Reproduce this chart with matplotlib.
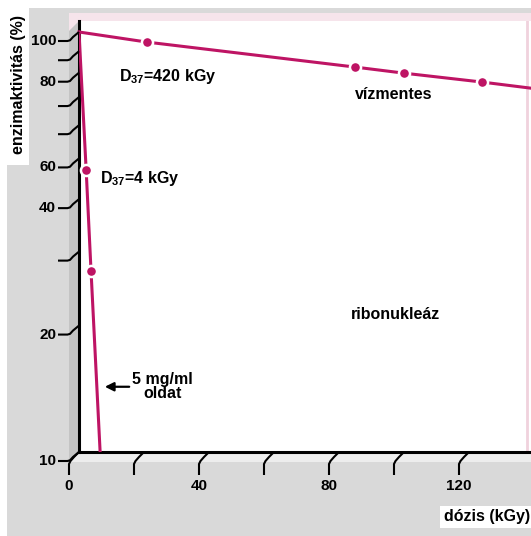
import numpy as np
import matplotlib
matplotlib.use('Agg')
import matplotlib.pyplot as plt
from matplotlib.patches import Polygon
from matplotlib.lines import Line2D
from matplotlib.ticker import NullLocator

plt.rcParams['font.family'] = ['Liberation Sans', 'DejaVu Sans']
plt.rcParams['font.weight'] = 'bold'
plt.rcParams['font.size'] = 11.5
plt.rcParams['mathtext.fontset'] = 'custom'
plt.rcParams['mathtext.rm'] = 'Liberation Sans:bold'
plt.rcParams['mathtext.bf'] = 'Liberation Sans:bold'

# adatok
dozis_vizmentes = [0, 21, 85, 100, 124, 139]
aktivitas_vizmentes = [100, 94.6, 82.5, 79.8, 76.0, 73.5]
dozis_oldat = [0, 2.2, 3.7, 6.5]
aktivitas_oldat = [100, 47, 27, 10]

x_ticks = [0, 20, 40, 60, 80, 100, 120]
x_labels = ['0', '', '40', '', '80', '', '120']
y_ticks = [10, 20, 30, 40, 50, 60, 70, 80, 90, 100]
y_labels = ['10', '20', '', '40', '60', '', '', '80', '', '100']

W, H = 531, 536
SZIN = '#be1464'
TICK_FS = 11


def fpx(x, y):
    # képpont (bal felső sarokból) -> figura koordináta
    return x / W, 1 - y / H


fig = plt.figure(figsize=(W / 100, H / 100), dpi=100)
fig.patch.set_facecolor('white')


def poly(pts, color, z=-2):
    fig.add_artist(Polygon([fpx(*p) for p in pts], closed=True, transform=fig.transFigure,
                           facecolor=color, edgecolor='none', zorder=z))


# háttér, 3D fal és padló
poly([(7, 8), (531, 8), (531, 536), (7, 536)], '#d9d9d9')
poly([(0, 0), (29, 0), (29, 165), (0, 165)], 'white')
poly([(440, 506), (531, 506), (531, 528), (440, 528)], 'white')
poly([(69, 13), (531, 13), (531, 452), (69, 452)], '#f6e4eb')
poly([(69, 31), (79, 21), (79, 452), (69, 462)], '#c4c4c4')
poly([(79, 452), (531, 452), (531, 462), (69, 462)], '#ededed')

x0, y0 = fpx(79, 452)
x1, y1 = fpx(531, 21)
ax = fig.add_axes([x0, y0, x1 - x0, y1 - y0])
ax.set_facecolor('white')
ax.set_yscale('log')
ax.set_xlim(0, (531 - 79) / 3.25)
ax.set_ylim(10, 10 ** (1 + (452 - 21) / 420))
ax.yaxis.set_minor_locator(NullLocator())
ax.tick_params(length=0, labelleft=False, labelbottom=False, which='both')
for s in ['top', 'right']:
    ax.spines[s].set_visible(False)
for s in ['left', 'bottom']:
    ax.spines[s].set_linewidth(2.2)
    ax.spines[s].set_color('black')

# jobb oldali rózsaszín keret
ax.plot([0.991, 0.991], [0, 1], transform=ax.transAxes, color='#f0d2dd', lw=2, zorder=0.5)

# görbék
ax.plot(dozis_vizmentes, aktivitas_vizmentes, color=SZIN, lw=2.2, marker='o', markevery=[1, 2, 3, 4],
        ms=8, mfc=SZIN, mec='white', mew=1.8, clip_on=False, zorder=3)
ax.plot(dozis_oldat, aktivitas_oldat, color=SZIN, lw=2.2, marker='o', markevery=[1, 2],
        ms=8, mfc=SZIN, mec='white', mew=1.8, zorder=3)

# feliratok
ax.text(27.4, 78.2, r'D$_{37}$=420 kGy', ha='center', va='center')
ax.text(6.5, 44.9, r'D$_{37}$=4 kGy', ha='left', va='center')
ax.text(96.9, 70.8, 'vízmentes', ha='center', va='center')
ax.text(97.5, 21.2, 'ribonukleáz', ha='center', va='center')
ax.text(25.8, 14.3, '5 mg/ml\noldat', ha='center', va='center', linespacing=0.95)
ax.annotate('', xy=(7.1, 14.3), xytext=(16.3, 14.3),
            arrowprops=dict(arrowstyle='-|>', color='black', lw=1.6, mutation_scale=13))

fig.text(19 / W, 1 - 84 / H, 'enzimaktivitás (%)', rotation=90, ha='center', va='center')
fig.text(530 / W, 1 - 517 / H, 'dózis (kGy)', ha='right', va='center')


# "3D" osztásjelek az elülső síkon
def vonal(pts):
    fx = [p[0] / W for p in pts]
    fy = [p[1] / H for p in pts]
    fig.add_artist(Line2D(fx, fy, transform=fig.transFigure, color='black', lw=1.5,
                          solid_capstyle='butt', solid_joinstyle='round', zorder=4))


for v, lab in zip(x_ticks, x_labels):
    bx, by = ax.transData.transform((v, 10))
    fxp, fyp = bx - 10, by - 10
    vonal([(bx, by), (bx - 5, by - 5), (bx - 8.5, by - 9), (fxp, fyp - 2), (fxp, fyp - 13)])
    if lab:
        fig.text(fxp / W, (fyp - 24) / H, lab, ha='center', va='center', fontsize=TICK_FS)

for v, lab in zip(y_ticks, y_labels):
    bx, by = ax.transData.transform((0, v))
    fxp, fyp = bx - 10, by - 9
    vonal([(bx, by), (bx - 6, by - 5), (bx - 9, by - 8.3), (fxp - 1.5, fyp), (fxp - 11, fyp)])
    if lab:
        fig.text((fxp - 13) / W, fyp / H, lab, ha='right', va='center', fontsize=TICK_FS)

fig.savefig('out.png', dpi=100)
